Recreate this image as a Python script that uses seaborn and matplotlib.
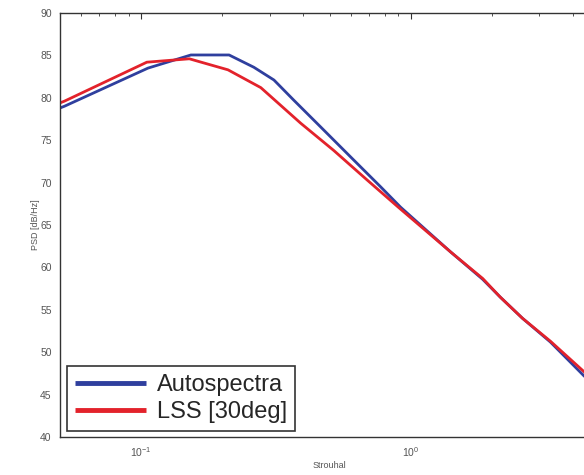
import numpy as np
import pandas as pd
import matplotlib
matplotlib.use("Agg")
import matplotlib.pyplot as plt
import seaborn as sns
from matplotlib.ticker import LogLocator, NullFormatter, FixedLocator

# Data
auto_f = [0.050, 0.0519, 0.106, 0.153, 0.212, 0.262, 0.311, 0.369, 0.464, 0.600,
          0.774, 0.918, 1.41, 1.85, 2.15, 2.6, 3.30, 4.40, 5.0]
auto_psd = [78.8, 79.0, 83.5, 85.05, 85.05, 83.6, 82.1, 79.7, 76.55, 73.0,
            69.5, 67.1, 61.8, 58.6, 56.5, 54.0, 51.2, 47.2, 45.7]
lss_f = [0.050, 0.0519, 0.105, 0.151, 0.167, 0.210, 0.278, 0.391, 0.518, 0.69,
         0.90, 1.41, 1.85, 2.15, 2.6, 3.30, 4.40, 5.0]
lss_psd = [79.4, 79.6, 84.2, 84.6, 84.2, 83.3, 81.2, 77.0, 73.8, 70.3,
           67.1, 61.8, 58.7, 56.5, 54.0, 51.3, 47.7, 46.2]
series_names = ["Autospectra", "LSS [30deg]"]

df = pd.concat([
    pd.DataFrame({"Strouhal": auto_f, "PSD": auto_psd, "series": series_names[0]}),
    pd.DataFrame({"Strouhal": lss_f, "PSD": lss_psd, "series": series_names[1]}),
])

sns.set_style("white")
plt.rcParams["font.family"] = ["Liberation Sans", "DejaVu Sans"]
plt.rcParams["mathtext.fontset"] = "custom"
plt.rcParams["mathtext.rm"] = "Liberation Sans"

fig = plt.figure(figsize=(5.84, 4.75), dpi=100)
ax = fig.add_axes([60/584, 38/475, 539/584, 424/475])

palette = {series_names[0]: "#2f3f9e", series_names[1]: "#e3222b"}
sns.lineplot(data=df, x="Strouhal", y="PSD", hue="series", palette=palette,
             sort=False, estimator=None, linewidth=2.0, ax=ax)

ax.set_xscale("log")
ax.set_xlim(0.05, 5.0)
ax.set_ylim(40, 90)
ax.yaxis.set_major_locator(FixedLocator(np.arange(40, 91, 5)))
ax.xaxis.set_major_locator(LogLocator(base=10, numticks=10))
ax.xaxis.set_minor_locator(LogLocator(base=10, subs=np.arange(2, 10), numticks=20))
ax.xaxis.set_minor_formatter(NullFormatter())

grey = "#555555"
for s in ax.spines.values():
    s.set_visible(True)
    s.set_color("#333333")
    s.set_linewidth(1.0)
ax.tick_params(axis="both", which="both", direction="in", top=True, right=True,
               colors="#333333", labelcolor=grey, labelsize=7.5)
ax.tick_params(axis="y", pad=6)
ax.tick_params(axis="x", pad=6)
ax.tick_params(which="major", length=4)
ax.tick_params(which="minor", length=2.5)

ax.set_xlabel("Strouhal", fontsize=6.5, color=grey, labelpad=1)
ax.set_ylabel("PSD [dB/Hz]", fontsize=6.5, color=grey, labelpad=0)

leg = ax.legend(loc="lower left", bbox_to_anchor=(0.013, 0.014), borderaxespad=0,
                fontsize=17, handlelength=3.0, handletextpad=0.45, borderpad=0.35,
                labelspacing=0.2, frameon=True, fancybox=False, framealpha=1)
leg.get_frame().set_edgecolor("#333333")
leg.get_frame().set_linewidth(1.2)
for line in leg.get_lines():
    line.set_linewidth(3.5)
    line.set_solid_capstyle("butt")
leg.set_title(None)

fig.savefig("out.png", dpi=100, facecolor="white")
